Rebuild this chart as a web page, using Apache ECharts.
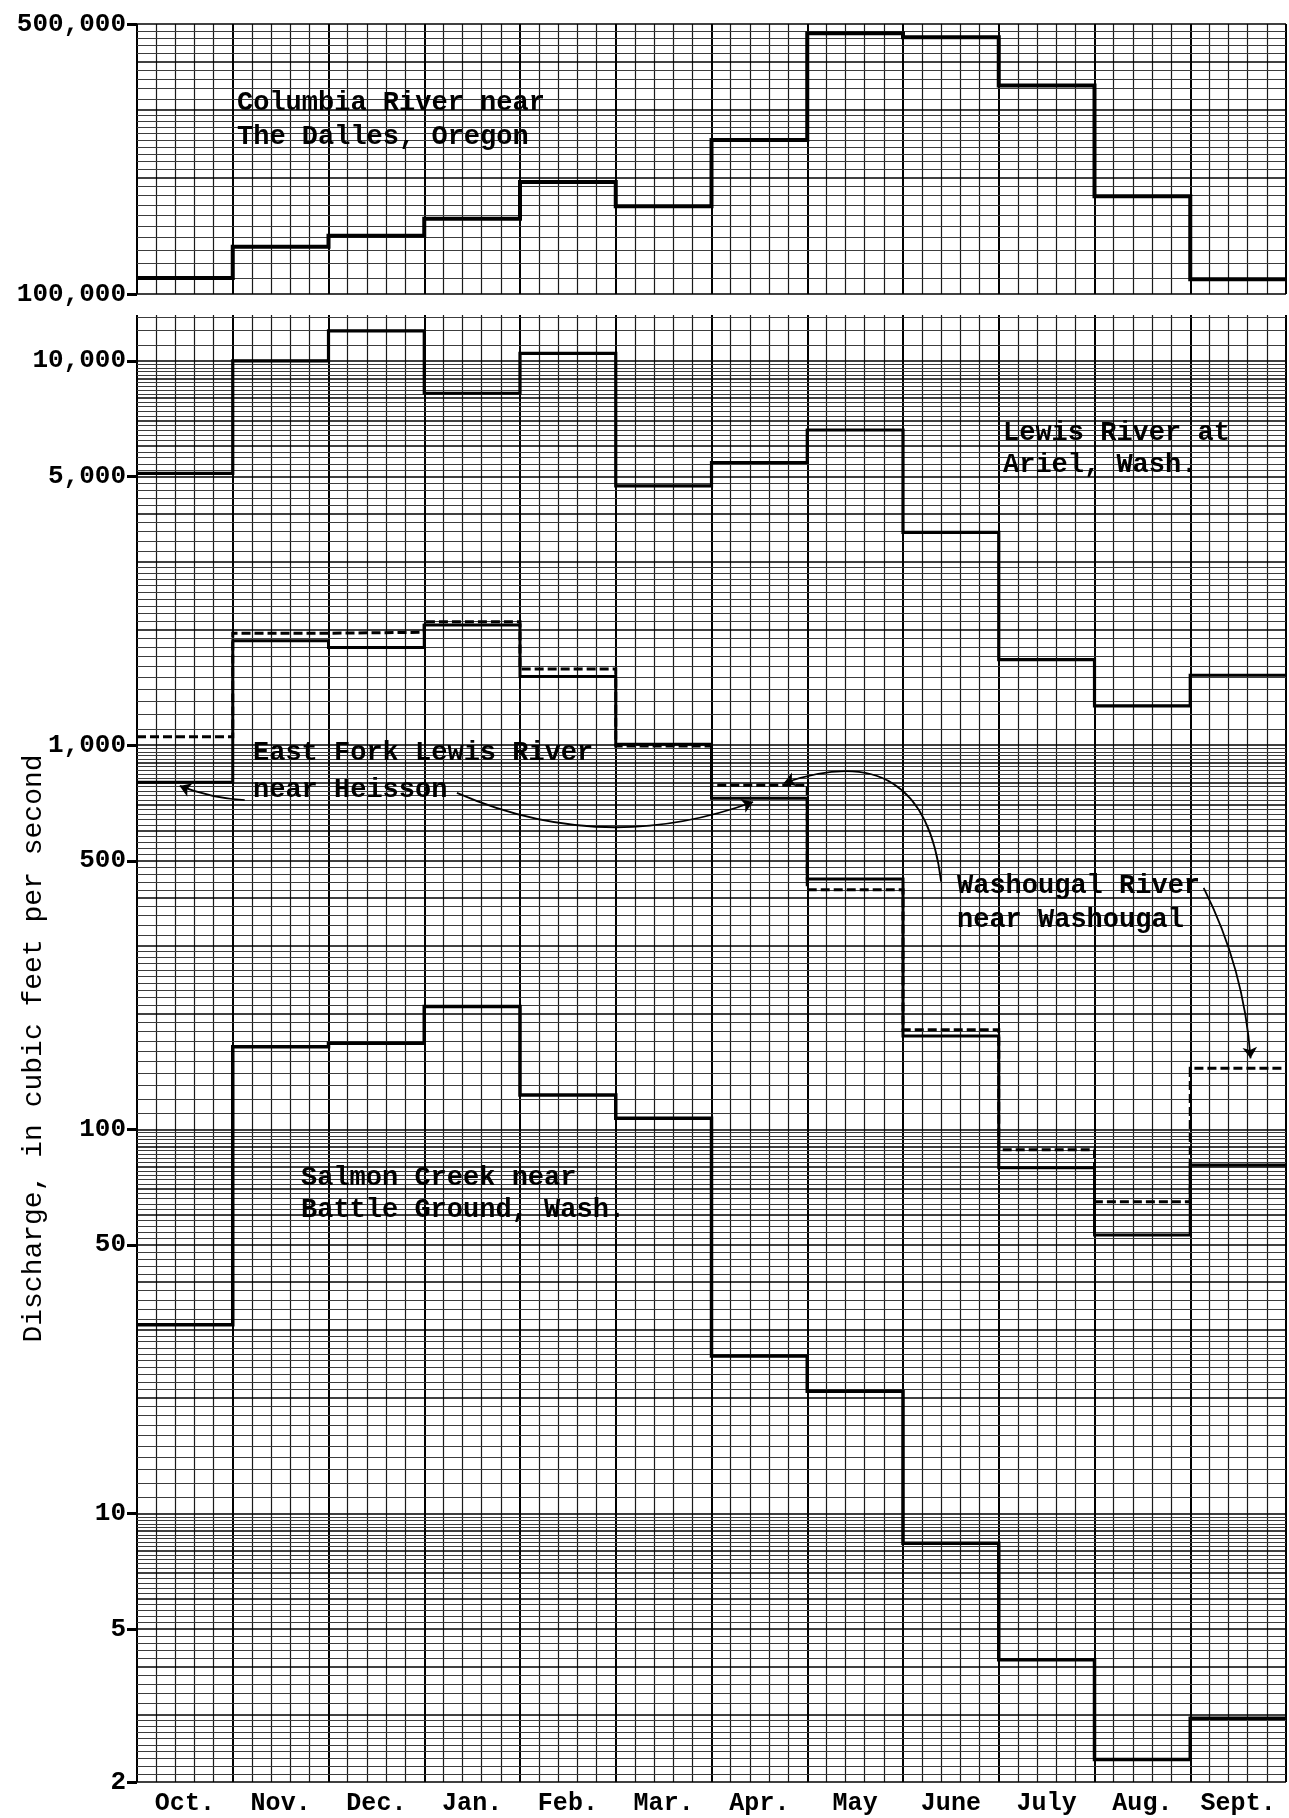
<!DOCTYPE html>
<html>
<head>
<meta charset="utf-8">
<script src="https://cdn.jsdelivr.net/npm/echarts@6/dist/echarts.min.js"></script>
<style>
html,body{margin:0;padding:0;background:#fff;}
#c{width:1289px;height:1818px;}
</style>
</head>
<body>
<div id="c"></div>
<script>
// ---- data (monthly mean discharge, cfs) ----
const months = ['Oct.', 'Nov.', 'Dec.', 'Jan.', 'Feb.', 'Mar.', 'Apr.', 'May', 'June', 'July', 'Aug.', 'Sept.'];
const columbia  = [110000, 132600, 141600, 156600, 195100, 168600, 250600, 472900, 461700, 346700, 179100, 109200];
const lewis     = [5100, 10000, 11970, 8240, 10470, 4730, 5440, 6610, 3580, 1670, 1265, 1520];
const eastFork  = [801, 1870, 1794, 2055, 1508, 1005, 727, 448, 175, 79.4, 53.1, 80.7];
const washougal = [1052, 1956, 1967, 2096, 1579, 995, 786, 420, 181.5, 88.4, 64.8, 144.2];
const salmon    = [31.0, 164, 167.5, 208.6, 122.9, 106.9, 25.7, 20.8, 8.37, 4.16, 2.29, 2.93];
const topTicks    = [100000, 500000];
const bottomTicks = [2, 5, 10, 50, 100, 500, 1000, 5000, 10000];
const labelLines = [
  ['Columbia River near', 'The Dalles, Oregon'],
  ['Lewis River at', 'Ariel, Wash.'],
  ['East Fork Lewis River', 'near Heisson'],
  ['Washougal River', 'near Washougal'],
  ['Salmon Creek near', 'Battle Ground, Wash.']
];
// annotation arrows: [start month-position, start cfs] -> [end month-position, end cfs]
const arrowFrom = [[1.125, 719], [3.341, 751], [8.398, 441], [11.14, 425]];
const arrowTo   = [[0.446, 783], [6.434, 711], [6.757, 797], [11.63, 153]];
const arrowBend = [0.08, -0.2, -0.62, 0.1];

// ---- helpers ----
function stepData(vals) {
  const d = vals.map((v, i) => [i, v]);
  d.push([vals.length, vals[vals.length - 1]]);
  return d;
}
function paperLines(lo, hi) {
  const out = [];
  for (let e = Math.floor(Math.log10(lo)) - 1; e <= Math.ceil(Math.log10(hi)); e++) {
    const base = Math.pow(10, e);
    for (let m = 10; m < 100; m += (m < 30 ? 1 : 2)) {
      const v = base * m / 10;
      if (v >= lo * 0.9999 && v <= hi * 1.0001) out.push({ v: v, major: m % 10 === 0 });
    }
  }
  return out;
}
function paperMark(lo, hi) {
  return {
    silent: true, symbol: ['none', 'none'], animation: false,
    label: { show: false }, emphasis: { disabled: true },
    data: paperLines(lo, hi).map(o => ({
      yAxis: o.v,
      lineStyle: { color: o.major ? '#000' : '#3c3c3c', width: o.major ? 1.6 : 1, type: 'solid' }
    }))
  };
}
const fmt = v => Math.round(v).toLocaleString('en-US');
const axisFont = { fontFamily: 'Liberation Mono', fontWeight: 'bold', fontSize: 26, color: '#000' };

function xValueAxis(gi) {
  return {
    gridIndex: gi, type: 'value', min: 0, max: 12, interval: 1,
    axisLine: { show: false }, axisTick: { show: false }, axisLabel: { show: false },
    splitLine: { show: true, lineStyle: { color: '#000', width: 2 } },
    minorTick: { show: false, splitNumber: 5 },
    minorSplitLine: { show: true, lineStyle: { color: '#1a1a1a', width: 1.2 } }
  };
}
function yLogAxis(gi, lo, hi, ticks) {
  return {
    gridIndex: gi, type: 'log', logBase: 10, min: lo, max: hi,
    axisLine: { show: false }, splitLine: { show: false },
    axisTick: { show: true, customValues: ticks, length: 10, lineStyle: { color: '#000', width: 3 } },
    axisLabel: Object.assign({ customValues: ticks, formatter: fmt, margin: 11 }, axisFont)
  };
}

const chart = echarts.init(document.getElementById('c'), null, { renderer: 'canvas' });

const yBottom = yLogAxis(1, 2, 13170, bottomTicks);
yBottom.name = 'Discharge, in cubic feet per second';
yBottom.nameLocation = 'middle';
yBottom.nameRotate = 90;
yBottom.nameGap = 89;
yBottom.nameMoveOverlap = false;
yBottom.nameTextStyle = { fontFamily: 'Liberation Mono', fontSize: 28, color: '#000' };

function stepSeries(name, vals, xi, yi, width, dash) {
  return {
    name: name, type: 'line', xAxisIndex: xi, yAxisIndex: yi, step: 'end',
    data: stepData(vals), showSymbol: false, symbol: 'none', z: 5, silent: true,
    lineStyle: { color: '#000', width: width, type: dash || 'solid', cap: 'butt', join: 'miter' }
  };
}
function arrowSeries(i) {
  return {
    type: 'lines', coordinateSystem: 'cartesian2d', xAxisIndex: 1, yAxisIndex: 1, z: 6, silent: true,
    symbol: ['none', 'arrow'], symbolSize: 11, animation: false,
    lineStyle: { color: '#000', width: 1.8, type: 'solid', opacity: 1, curveness: arrowBend[i] },
    data: [{ coords: [arrowFrom[i], arrowTo[i]] }]
  };
}

const textPos = [
  [237, 103, 137], [1003, 433, 465], [253, 753, 790], [957, 886, 920], [301, 1178, 1210]
];
const graphics = [];
labelLines.forEach((lines, k) => {
  lines.forEach((t, j) => {
    graphics.push({
      type: 'text', x: textPos[k][0], y: textPos[k][1 + j], z: 100, silent: true,
      style: { text: t, font: 'bold 27px "Liberation Mono"', fill: '#000', verticalAlign: 'middle', align: 'left' }
    });
  });
});

const option = {
  backgroundColor: '#fff',
  animation: false,
  grid: [
    { left: 137, right: 3, top: 24, height: 270, containLabel: false, outerBoundsMode: 'none' },
    { left: 137, right: 3, top: 315, height: 1467, containLabel: false, outerBoundsMode: 'none' }
  ],
  xAxis: [
    xValueAxis(0),
    xValueAxis(1),
    {
      gridIndex: 1, type: 'category', data: months, boundaryGap: true, position: 'bottom',
      axisLine: { show: false }, axisTick: { show: false }, splitLine: { show: false },
      axisLabel: { interval: 0, margin: 9, fontFamily: 'Liberation Mono', fontWeight: 'bold', fontSize: 25, color: '#000' }
    }
  ],
  yAxis: [
    yLogAxis(0, 100000, 500000, topTicks),
    yBottom
  ],
  graphic: graphics,
  series: [
    {
      type: 'line', xAxisIndex: 0, yAxisIndex: 0, data: [[0, 100000]], symbol: 'none', silent: true, z: 1,
      lineStyle: { width: 0, opacity: 0 }, markLine: paperMark(100000, 500000)
    },
    {
      type: 'line', xAxisIndex: 1, yAxisIndex: 1, data: [[0, 2]], symbol: 'none', silent: true, z: 1,
      lineStyle: { width: 0, opacity: 0 }, markLine: paperMark(2, 13170)
    },
    stepSeries('Columbia River near The Dalles, Oregon', columbia, 0, 0, 4),
    stepSeries('Lewis River at Ariel, Wash.', lewis, 1, 1, 3.2),
    stepSeries('East Fork Lewis River near Heisson', eastFork, 1, 1, 3),
    stepSeries('Washougal River near Washougal', washougal, 1, 1, 3, [9, 4]),
    stepSeries('Salmon Creek near Battle Ground, Wash.', salmon, 1, 1, 3.5),
    arrowSeries(0), arrowSeries(1), arrowSeries(2), arrowSeries(3)
  ]
};
chart.setOption(option);
</script>
</body>
</html>
